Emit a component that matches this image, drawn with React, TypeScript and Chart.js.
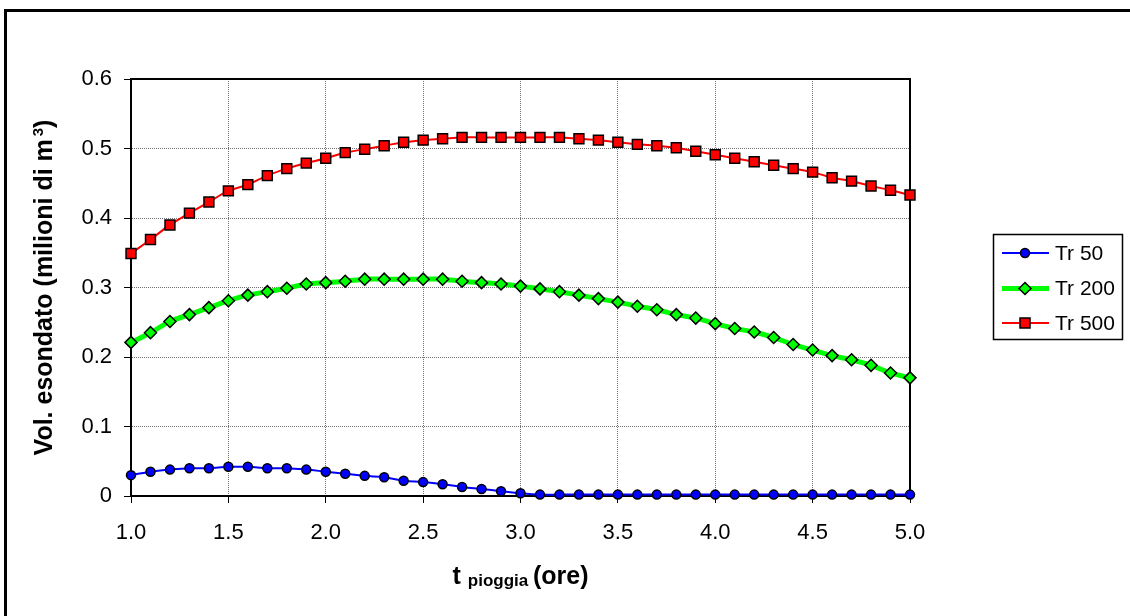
import { useEffect, useRef } from "react";
import { Chart, registerables } from "chart.js";

Chart.register(...registerables);

// Rain duration (hours)
const hours = [
  1.0, 1.1, 1.2, 1.3, 1.4, 1.5, 1.6, 1.7, 1.8, 1.9, 2.0, 2.1, 2.2, 2.3, 2.4, 2.5, 2.6, 2.7, 2.8, 2.9, 3.0,
  3.1, 3.2, 3.3, 3.4, 3.5, 3.6, 3.7, 3.8, 3.9, 4.0, 4.1, 4.2, 4.3, 4.4, 4.5, 4.6, 4.7, 4.8, 4.9, 5.0,
];

// Flooded volume (millions of m³) for each return period
const tr50 = [
  0.030, 0.035, 0.038, 0.040, 0.040, 0.042, 0.042, 0.040, 0.040, 0.038, 0.035, 0.032, 0.029, 0.027, 0.022,
  0.020, 0.017, 0.013, 0.010, 0.007, 0.004,
  0.002, 0.002, 0.002, 0.002, 0.002, 0.002, 0.002, 0.002, 0.002, 0.002, 0.002, 0.002, 0.002, 0.002, 0.002,
  0.002, 0.002, 0.002, 0.002, 0.002,
];
const tr200 = [
  0.221, 0.235, 0.251, 0.261, 0.271, 0.281, 0.289, 0.294, 0.299, 0.305, 0.307, 0.309, 0.312, 0.312, 0.312,
  0.312, 0.312, 0.309, 0.307, 0.305, 0.302,
  0.298, 0.294, 0.289, 0.284, 0.279, 0.273, 0.268, 0.261, 0.256, 0.248, 0.241, 0.236, 0.228, 0.218, 0.210,
  0.202, 0.196, 0.188, 0.177, 0.170,
];
const tr500 = [
  0.349, 0.369, 0.390, 0.407, 0.423, 0.439, 0.448, 0.461, 0.471, 0.479, 0.486, 0.494, 0.499, 0.504, 0.509,
  0.512, 0.514, 0.516, 0.516, 0.516, 0.516,
  0.516, 0.516, 0.514, 0.512, 0.509, 0.506, 0.504, 0.501, 0.496, 0.491, 0.486, 0.481, 0.476, 0.471, 0.466,
  0.458, 0.453, 0.446, 0.440, 0.433,
];

const seriesNames = ["Tr 50", "Tr 200", "Tr 500"];
const seriesColors = ["#0000ff", "#00ff00", "#ff0000"];
const seriesLineWidths = [2, 5, 2];
const seriesMarkers = ["circle", "rectRot", "rect"];

const yTitleMain = "Vol. esondato (milioni di m";
const yTitleSup = "3";
const yTitleEnd = ")";
const xTitleMain = "t";
const xTitleSub = "pioggia";
const xTitleEnd = "(ore)";

const FONT = "'Liberation Sans', Arial, Helvetica, sans-serif";

function drawMarker(ctx: CanvasRenderingContext2D, style: string, x: number, y: number, fill: string) {
  ctx.save();
  ctx.beginPath();
  if (style === "circle") {
    ctx.arc(x, y, 4.5, 0, Math.PI * 2);
  } else if (style === "rectRot") {
    ctx.moveTo(x - 6, y);
    ctx.lineTo(x, y - 6);
    ctx.lineTo(x + 6, y);
    ctx.lineTo(x, y + 6);
    ctx.closePath();
  } else {
    ctx.rect(x - 5, y - 5, 10, 10);
  }
  ctx.fillStyle = fill;
  ctx.fill();
  ctx.lineWidth = 1.5;
  ctx.strokeStyle = "#000";
  ctx.stroke();
  ctx.restore();
}

const decorPlugin = {
  id: "decor",
  beforeDraw(chart: any) {
    const { ctx, width, height } = chart;
    ctx.save();
    ctx.fillStyle = "#fff";
    ctx.fillRect(0, 0, width, height);
    // outer frame
    ctx.strokeStyle = "#000";
    ctx.lineWidth = 3;
    ctx.strokeRect(5.5, 10.5, width + 20, height + 20);
    ctx.restore();
  },
  beforeDatasetsDraw(chart: any) {
    const { ctx, chartArea } = chart;
    ctx.save();
    ctx.strokeStyle = "#000";
    ctx.lineWidth = 2;
    ctx.strokeRect(chartArea.left, chartArea.top, chartArea.right - chartArea.left, chartArea.bottom - chartArea.top);
    ctx.restore();
  },
  afterDraw(chart: any) {
    const { ctx, chartArea } = chart;
    const cx = (chartArea.left + chartArea.right) / 2;
    const cy = (chartArea.top + chartArea.bottom) / 2;
    ctx.save();
    ctx.fillStyle = "#000";
    ctx.textBaseline = "alphabetic";
    ctx.textAlign = "left";

    // y axis title, rotated, with superscript
    const big = `bold 25px ${FONT}`;
    const sup = `bold 15px ${FONT}`;
    ctx.font = big;
    const wMain = ctx.measureText(yTitleMain).width;
    const wEnd = ctx.measureText(yTitleEnd).width;
    ctx.font = sup;
    const wSup = ctx.measureText(yTitleSup).width;
    const supGap = 3;
    const total = wMain + supGap + wSup + wEnd;
    ctx.save();
    ctx.translate(52, cy);
    ctx.rotate(-Math.PI / 2);
    let px = -total / 2;
    ctx.font = big;
    ctx.fillText(yTitleMain, px, 0);
    px += wMain + supGap;
    ctx.font = sup;
    ctx.fillText(yTitleSup, px, -9);
    px += wSup;
    ctx.font = big;
    ctx.fillText(yTitleEnd, px, 0);
    ctx.restore();

    // x axis title, with subscript
    const sub = `bold 17px ${FONT}`;
    ctx.font = big;
    const wT = ctx.measureText(xTitleMain + " ").width;
    const wOre = ctx.measureText(xTitleEnd).width;
    ctx.font = sub;
    const wSub = ctx.measureText(xTitleSub + " ").width;
    const xt = wT + wSub + wOre;
    let tx = cx - xt / 2;
    const baseY = 584;
    ctx.font = big;
    ctx.fillText(xTitleMain, tx, baseY);
    tx += wT;
    ctx.font = sub;
    ctx.fillText(xTitleSub, tx, baseY + 2);
    tx += wSub;
    ctx.font = big;
    ctx.fillText(xTitleEnd, tx, baseY);

    // legend
    const lx = 993, ly = 234, lw = 129, lh = 105;
    ctx.fillStyle = "#fff";
    ctx.fillRect(lx, ly, lw, lh);
    ctx.strokeStyle = "#000";
    ctx.lineWidth = 1.5;
    ctx.strokeRect(lx + 0.5, ly + 0.5, lw, lh);
    const rows = [253, 288.5, 323];
    ctx.font = `21px ${FONT}`;
    ctx.textBaseline = "middle";
    seriesNames.forEach((name, i) => {
      const y = rows[i];
      ctx.strokeStyle = seriesColors[i];
      ctx.lineWidth = seriesLineWidths[i];
      ctx.beginPath();
      ctx.moveTo(1002, y);
      ctx.lineTo(1049, y);
      ctx.stroke();
      drawMarker(ctx, seriesMarkers[i], 1025, y, seriesColors[i]);
      ctx.fillStyle = "#000";
      ctx.fillText(name, 1055, y + 1);
    });
    ctx.restore();
  },
};

export default function App() {
  const canvasRef = useRef<HTMLCanvasElement | null>(null);

  useEffect(() => {
    const canvas = canvasRef.current;
    if (!canvas) return;
    const seriesData = [tr50, tr200, tr500];
    const chart = new Chart(canvas, {
      type: "line",
      data: {
        datasets: seriesNames.map((name, i) => ({
          label: name,
          data: hours.map((h, j) => ({ x: h, y: seriesData[i][j] })),
          borderColor: seriesColors[i],
          borderWidth: seriesLineWidths[i],
          backgroundColor: seriesColors[i],
          pointStyle: seriesMarkers[i] as any,
          pointRadius: i === 0 ? 4.5 : i === 1 ? 6 : 7,
          pointBackgroundColor: seriesColors[i],
          pointBorderColor: "#000",
          pointBorderWidth: 1.5,
          tension: 0.4,
          fill: false,
          clip: false as any,
        })),
      },
      options: {
        animation: false,
        responsive: false,
        devicePixelRatio: 1,
        layout: { padding: { top: 79, right: 220, left: 0, bottom: 0 } },
        plugins: {
          legend: { display: false },
          tooltip: { enabled: false },
          title: { display: false },
        },
        scales: {
          x: {
            type: "linear",
            min: 1,
            max: 5,
            ticks: {
              stepSize: 0.5,
              color: "#000",
              font: { family: FONT, size: 22 },
              padding: 17,
              maxRotation: 0,
              callback: (v: any) => Number(v).toFixed(1),
            },
            grid: {
              color: "#707070",
              lineWidth: 1,
              tickColor: "#000",
              tickLength: 7,
              tickWidth: 1,
            },
            border: { display: true, color: "#000", width: 2, dash: [1, 1] },
            afterFit: (scale: any) => {
              scale.height = 120;
            },
          },
          y: {
            type: "linear",
            min: 0,
            max: 0.6,
            ticks: {
              stepSize: 0.1,
              color: "#000",
              font: { family: FONT, size: 22 },
              padding: 12,
              callback: (v: any) => (Math.abs(Number(v)) < 1e-9 ? "0" : Number(v).toFixed(1)),
            },
            grid: {
              color: "#707070",
              lineWidth: 1,
              tickColor: "#000",
              tickLength: 7,
              tickWidth: 1,
            },
            border: { display: true, color: "#000", width: 2, dash: [1, 1] },
            afterFit: (scale: any) => {
              scale.width = 131;
            },
          },
        },
      },
      plugins: [decorPlugin],
    });
    return () => chart.destroy();
  }, []);

  return (
    <canvas
      ref={canvasRef}
      width={1130}
      height={616}
      style={{ position: "fixed", left: 0, top: 0, width: 1130, height: 616 }}
    />
  );
}
